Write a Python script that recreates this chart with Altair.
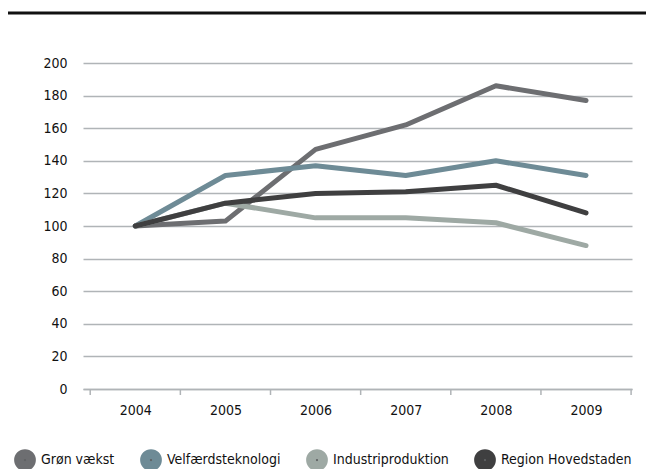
import altair as alt
import pandas as pd

years = [2004, 2005, 2006, 2007, 2008, 2009]
series_names = ["Grøn vækst", "Velfærdsteknologi", "Industriproduktion", "Region Hovedstaden"]
gron = [100, 103, 147, 162, 186, 177]
velfaerd = [100, 131, 137, 131, 140, 131]
industri = [100, 114, 105, 105, 102, 88]
region = [100, 114, 120, 121, 125, 108]
colors = ["#6d6e71", "#6e8b96", "#9ea9a4", "#3f3f40"]
tick_bounds = [2003.5, 2004.5, 2005.5, 2006.5, 2007.5, 2008.5, 2009.5]

rows = []
for name, vals in zip(series_names, [gron, velfaerd, industri, region]):
    for y, v in zip(years, vals):
        rows.append({"År": y, "Indeks": v, "Serie": name})
df = pd.DataFrame(rows)

W, H = 549, 326
FONT = "'DejaVu Sans Condensed', 'Liberation Sans Narrow', Roboto, sans-serif"

xscale = alt.Scale(domain=[2003.42, 2009.51], nice=False, zero=False)
yscale = alt.Scale(domain=[0, 200], nice=False)

lines = alt.Chart(df).mark_line(strokeWidth=5, strokeCap="round", strokeJoin="round").encode(
    x=alt.X("År:Q", scale=xscale,
            axis=alt.Axis(values=years, format="d", title=None, ticks=False, grid=False,
                          domain=True, domainColor="#b0b4b7", domainWidth=1.5,
                          labelFontSize=14, labelColor="#111", labelPadding=14, labelFont=FONT)),
    y=alt.Y("Indeks:Q", scale=yscale,
            axis=alt.Axis(values=list(range(0, 201, 20)), title=None, ticks=False, domain=False,
                          grid=True, gridColor="#b0b4b7", gridWidth=1.5,
                          labelFontSize=14, labelColor="#111", labelPadding=16, labelFont=FONT)),
    color=alt.Color("Serie:N", sort=series_names,
                    scale=alt.Scale(domain=series_names, range=colors),
                    legend=alt.Legend(title=None, orient="none", direction="horizontal",
                                      legendX=-69, legendY=386,
                                      symbolType="circle", symbolSize=95, symbolStrokeWidth=12,
                                      symbolFillColor="#5f6163",
                                      symbolOpacity=1, labelFontSize=14, labelFont=FONT,
                                      labelColor="#111", labelOffset=5, columnPadding=7)),
    order=alt.Order("Serie:N"),
)

ticks_df = pd.DataFrame({"t": tick_bounds})
ticks = alt.Chart(ticks_df).mark_rule(color="#b0b4b7", strokeWidth=1.5).encode(
    x=alt.X("t:Q", scale=xscale),
    y=alt.value(H),
    y2=alt.value(H + 6),
)

topline = alt.Chart(pd.DataFrame({"a": [0]})).mark_rule(color="#111", strokeWidth=3).encode(
    x=alt.value(-75), x2=alt.value(W + 20), y=alt.value(-50)
)

chart = alt.layer(ticks, lines, topline).properties(
    width=W, height=H,
    autosize=alt.AutoSizeParams(type="none"),
    padding={"left": 75, "top": 55, "right": 14, "bottom": 80},
).configure_view(stroke=None)

chart.save("out.html", embed_options={"renderer": "svg", "actions": False})
